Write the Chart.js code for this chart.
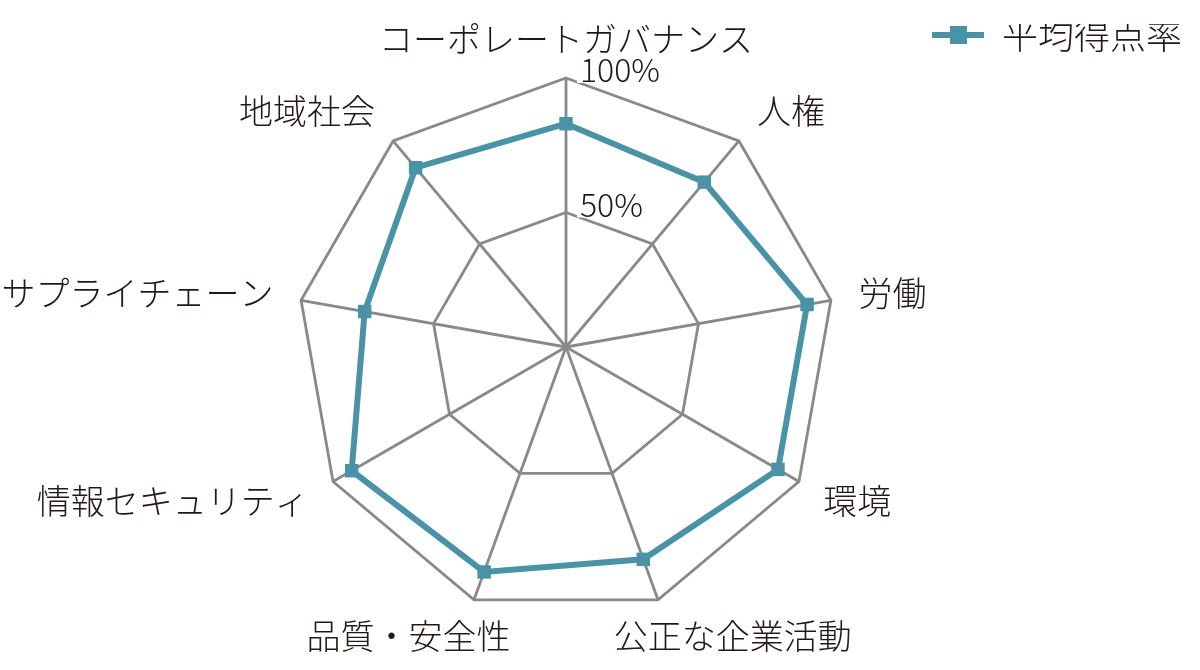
<!DOCTYPE html>
<html lang="ja">
<head>
<meta charset="utf-8">
<title>平均得点率</title>
<script src="https://cdn.jsdelivr.net/npm/chart.js@4.4.1/dist/chart.umd.min.js"></script>
<style>
  html, body { margin: 0; padding: 0; background: #fff; }
  #wrap { width: 1200px; height: 670px; }
</style>
</head>
<body>
<div id="wrap"><canvas id="radarChart"></canvas></div>
<script>
const categories = ["コーポレートガバナンス", "人権", "労働", "環境", "公正な企業活動", "品質・安全性", "情報セキュリティ", "サプライチェーン", "地域社会"];
const seriesName = "平均得点率";
const seriesValues = [83, 80, 91, 91, 84, 89, 92, 76, 87];
const tickValues = [50, 100];
const tickLabels = ["50%", "100%"];

const TEAL = "#4a93a6";
const GRID = "#898989";
const TEXT = "#231815";
const FONT = "'Noto Sans CJK JP', 'Noto Sans', sans-serif";

// legend marker: a short line with a square, drawn at the right end of a wide box
// so that the legend text lands where it should
function makeMarker() {
    let c = document.createElement("canvas");
    c.width = 154;
    c.height = 18;
    let g = c.getContext("2d");
    g.fillStyle = TEAL;
    g.fillRect(102, 6, 52, 6);
    g.fillRect(120, 0, 17, 18);
    return c;
}
const marker = makeMarker();

// tick labels sit right of the top axis, category labels around the outer polygon
const radarText = {
    id: "radarText",
    afterDatasetsDraw(chart) {
        let scale = chart.scales.r;
        let ctx = chart.ctx;
        ctx.save();

        ctx.font = "300 32px " + FONT;
        ctx.textAlign = "left";
        ctx.textBaseline = "middle";
        tickValues.forEach((v, i) => {
            let p = scale.getPointPositionForValue(0, v);
            let x = p.x + 14, y = p.y - 8;
            let w = ctx.measureText(tickLabels[i]).width;
            ctx.fillStyle = "#fff";
            ctx.fillRect(x - 3, y - 13, w + 6, 26);
            ctx.fillStyle = TEXT;
            ctx.fillText(tickLabels[i], x, y);
        });

        ctx.font = "300 34px " + FONT;
        ctx.textAlign = "center";
        ctx.fillStyle = TEXT;
        categories.forEach((label, i) => {
            let p = scale.getPointPosition(i, scale.drawingArea + 28);
            let a = scale.getIndexAngle(i);
            let s = Math.sin(a), c = Math.cos(a);
            let w = ctx.measureText(label).width;
            let shift = Math.max(-1, Math.min(1, 1.6 * s));
            ctx.fillText(label, p.x + shift * w / 2, p.y - 11 * c);
        });

        ctx.restore();
    }
};

let ctx = document.getElementById("radarChart").getContext("2d");
window.radarChart = new Chart(ctx, {
    type: "radar",
    data: {
        labels: categories,
        datasets: [{
            label: seriesName,
            data: seriesValues,
            borderColor: TEAL,
            backgroundColor: TEAL,
            borderWidth: 6,
            fill: false,
            tension: 0,
            pointStyle: "rect",
            pointRadius: 9.5,
            pointBorderWidth: 0,
            pointBackgroundColor: TEAL
        }]
    },
    options: {
        responsive: true,
        maintainAspectRatio: false,
        animation: false,
        events: [],
        layout: { padding: { left: 297, right: 8, top: 24, bottom: 0 } },
        scales: {
            r: {
                min: 0,
                max: 100,
                ticks: { stepSize: 50, display: false },
                grid: { color: GRID, lineWidth: 2.8 },
                angleLines: { color: GRID, lineWidth: 2.8 },
                pointLabels: { display: false }
            }
        },
        plugins: {
            legend: {
                position: "right",
                align: "start",
                labels: {
                    usePointStyle: true,
                    pointStyleWidth: 154,
                    padding: -7,
                    color: TEXT,
                    font: { family: FONT, size: 36, weight: "300" },
                    generateLabels(chart) {
                        let items = Chart.defaults.plugins.legend.labels.generateLabels(chart);
                        items.forEach(it => { it.pointStyle = marker; });
                        return items;
                    }
                }
            },
            tooltip: { enabled: false }
        }
    },
    plugins: [radarText]
});
</script>
</body>
</html>
